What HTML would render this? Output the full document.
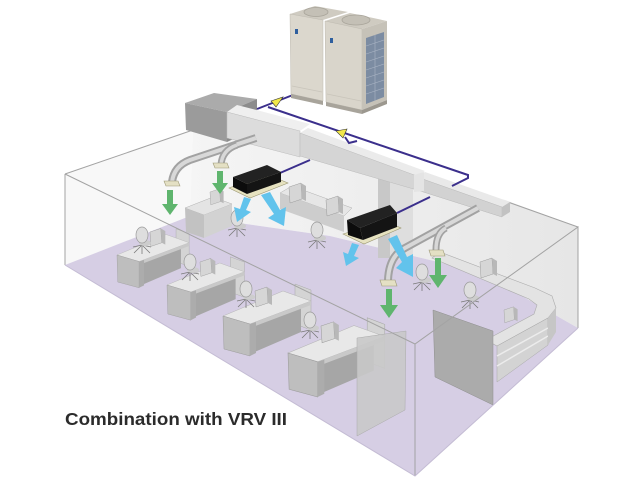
<!DOCTYPE html>
<html><head><meta charset="utf-8"><style>html,body{margin:0;padding:0;background:#fff}svg{display:block}</style></head>
<body>
<svg width="640" height="479" viewBox="0 0 640 479" xmlns="http://www.w3.org/2000/svg">
<defs>
<linearGradient id="bw" x1="0" y1="0" x2="1" y2="0">
<stop offset="0" stop-color="#f5f5f5"/><stop offset="1" stop-color="#e6e6e6"/>
</linearGradient>
<g id="desk">
 <polygon points="72,-32 88,-26 88,14 72,8" fill="#d4d4d4" stroke="#a8a8a8" stroke-width="0.5"/>
 <polygon points="27,10 78,-12 78,16 27,38" fill="#a6a6a6"/>
 <polygon points="0,0 60,-25 88,-15 27,8" fill="#e8e8e8" stroke="#b4b4b4" stroke-width="0.5"/>
 <polygon points="27,8 88,-15 88,-11 27,12" fill="#c9c9c9"/>
 <polygon points="0,0 27,8 27,40 1,33" fill="#bebebe" stroke="#9c9c9c" stroke-width="0.5"/>
 <polygon points="27,8 33,6 33,37 27,40" fill="#acacac"/>
</g>
<g id="mon">
 <polygon points="0,0 12,-4 13,12 1,16" fill="#d6d6d6" stroke="#9c9c9c" stroke-width="0.5"/>
 <polygon points="12,-4 17,-1 17,14 13,12" fill="#b8b8b8"/>
</g>
<g id="chair">
 <path d="M0,10 L-8,18 M0,10 L8,18 M0,10 L0,19 M0,10 L-9,12 M0,10 L9,12" stroke="#7a7a7a" stroke-width="0.8" fill="none"/>
 <ellipse cx="3" cy="8" rx="6" ry="3" fill="#cdcdcd"/>
 <ellipse cx="0" cy="0" rx="6" ry="8" fill="#dedede" stroke="#999" stroke-width="0.7"/>
</g>
</defs>
<rect width="640" height="479" fill="#fff"/>

<!-- walls and floor -->
<polygon points="65,174 193,130 190,216 65,265" fill="#f8f8f8"/>
<polygon points="193,130 505,200 578,227 578,328 480,272 330,236 190,216" fill="url(#bw)"/>
<polygon points="65,265 190,216 330,236 480,272 578,328 415,476" fill="#d6cee4"/>

<!-- back desks -->
<polygon points="280,193 292,186 352,208 344,216" fill="#e6e6e6" stroke="#b0b0b0" stroke-width="0.5"/>
<polygon points="280,193 344,216 344,232 280,209" fill="#cdcdcd"/>
<use href="#mon" transform="translate(289,187)"/>
<use href="#mon" transform="translate(326,200)"/>
<polygon points="185,208 213,197 232,204 204,215" fill="#e4e4e4" stroke="#b0b0b0" stroke-width="0.5"/>
<polygon points="185,208 204,215 204,238 186,232" fill="#c2c2c2"/>
<polygon points="204,215 232,204 232,226 204,238" fill="#d2d2d2"/>
<use href="#mon" transform="translate(210,192) scale(0.8)"/>
<use href="#chair" transform="translate(237,218)"/>
<use href="#chair" transform="translate(317,230)"/>

<!-- column -->
<rect x="378" y="176" width="12" height="82" fill="#c8c8c8"/>
<polygon points="390,180 413,189 413,262 390,258" fill="#dedede"/>

<!-- reception counter -->
<polygon points="440,252 535,288 552,296 556,308 548,318 497,346 486,340 534,314 537,305 529,299 432,258" fill="#e3e3e3" stroke="#acacac" stroke-width="0.6"/>
<polygon points="548,318 497,346 497,382 548,345" fill="#d3d3d3" stroke="#a8a8a8" stroke-width="0.5"/>
<path d="M497,356 L548,328 M497,366 L548,336" stroke="#ececec" stroke-width="1.5"/>
<polygon points="556,308 548,318 548,345 556,332" fill="#c6c6c6"/>
<use href="#mon" transform="translate(480,262)"/>
<use href="#mon" transform="translate(504,310) scale(0.8)"/>
<use href="#chair" transform="translate(470,290)"/>
<use href="#chair" transform="translate(422,272)"/>

<!-- front desks -->
<use href="#desk" transform="translate(117,255) scale(0.82)"/>
<use href="#mon" transform="translate(150,232) scale(0.9)"/>
<use href="#chair" transform="translate(142,235)"/>
<use href="#desk" transform="translate(167,285) scale(0.88)"/>
<use href="#mon" transform="translate(200,262) scale(0.9)"/>
<use href="#chair" transform="translate(190,262)"/>
<use href="#desk" transform="translate(223,316) scale(1)"/>
<use href="#mon" transform="translate(255,291)"/>
<use href="#chair" transform="translate(246,289)"/>
<use href="#desk" transform="translate(288,353) scale(1.1)"/>
<use href="#mon" transform="translate(321,326) scale(1.05)"/>
<use href="#chair" transform="translate(310,320)"/>

<!-- front panels -->
<polygon points="357,338 406,331 405,410 357,436" fill="#c9c9c9" fill-opacity="0.9" stroke="#aaa" stroke-width="0.5"/>
<polygon points="433,310 493,331 493,405 435,377" fill="#ababab" stroke="#8e8e8e" stroke-width="0.5"/>

<!-- room outline -->
<g stroke="#a3a3a3" stroke-width="1" fill="none">
<path d="M65,174 L193,130 M65,174 L65,265 M65,174 L415,344 L578,227 L578,328 M578,227 L505,201 M415,344 L415,476"/>
<path d="M65,265 L415,476 L578,328" stroke="#c4bcd4"/>
</g>

<!-- AHU -->
<polygon points="185,103 214,93 257,99 227,112" fill="#ababab"/>
<polygon points="185,103 227,112 227,142 186,130" fill="#9b9b9b"/>
<polygon points="227,112 257,99 257,128 227,142" fill="#8c8c8c"/>

<!-- duct -->
<polygon points="227,112 237,105 310,124 300,131" fill="#efefef"/>
<polygon points="227,112 300,131 300,157 227,138" fill="#dcdcdc" stroke="#bcbcbc" stroke-width="0.5"/>
<polygon points="300,133 308,128 425,171 417,176" fill="#ebebeb"/>
<polygon points="300,133 417,176 417,190 300,156" fill="#d5d5d5" stroke="#bbb" stroke-width="0.5"/>
<polygon points="417,177 425,172 510,202 502,207" fill="#e9e9e9"/>
<polygon points="417,177 502,207 502,217 417,190" fill="#d2d2d2" stroke="#b8b8b8" stroke-width="0.5"/>
<polygon points="502,207 510,202 510,212 502,217" fill="#c2c2c2"/>
<polygon points="414,175 424,172 424,191 414,192" fill="#e4e4e4"/>

<!-- refrigerant lines -->
<g stroke="#3b2f8c" stroke-width="2" fill="none">
<path d="M298,93 L257,109"/>
<path d="M268,107 L468,175 L468,178 L452,186"/>
<path d="M345,137 L349,143 L357,141"/>
<path d="M280,173 L310,160"/>
<path d="M397,213 L430,197"/>
</g>
<polygon points="271,101 283,97 276,107" fill="#f2e84a" stroke="#333" stroke-width="0.6"/>
<polygon points="336,131 347,129 343,138" fill="#f2e84a" stroke="#333" stroke-width="0.6"/>

<!-- flexible pipes -->
<g fill="none" stroke-linecap="butt">
<path d="M256,138 L190,160 Q174,166 172,182" stroke="#a2a2a2" stroke-width="8"/>
<path d="M256,138 L190,160 Q174,166 172,182" stroke="#d8d8d8" stroke-width="4"/>
<path d="M237,145 Q222,150 221,165" stroke="#a2a2a2" stroke-width="7"/>
<path d="M237,145 Q222,150 221,165" stroke="#d8d8d8" stroke-width="3.5"/>
<path d="M478,208 L405,248 Q389,256 388,280" stroke="#a2a2a2" stroke-width="8"/>
<path d="M478,208 L405,248 Q389,256 388,280" stroke="#d8d8d8" stroke-width="4"/>
<path d="M446,228 Q436,233 436,250" stroke="#a2a2a2" stroke-width="7"/>
<path d="M446,228 Q436,233 436,250" stroke="#d8d8d8" stroke-width="3.5"/>
</g>
<g fill="#e4e0c4" stroke="#9e9a78" stroke-width="0.6">
<polygon points="164,181 178,181 180,186 166,186"/>
<polygon points="213,163 227,163 229,168 215,168"/>
<polygon points="380,280 395,280 397,286 382,286"/>
<polygon points="429,250 443,250 445,256 431,256"/>
</g>

<!-- green arrows -->
<g fill="#5fb56e">
<polygon points="167,190 173,190 173,204 178,204 170,215 162,204 167,204"/>
<polygon points="217,171 223,171 223,183 228,183 220,194 212,183 217,183"/>
<polygon points="386,289 392,289 392,305 398,305 389,318 380,305 386,305"/>
<polygon points="435,258 441,258 441,275 447,275 438,288 429,275 435,275"/>
</g>

<!-- FCU 1 -->
<polygon points="229,188 250,198 288,183 266,174" fill="#e6e2c0" stroke="#9a9670" stroke-width="0.6"/>
<polygon points="233,177 267,165 281,172 247,184" fill="#222"/>
<polygon points="233,177 247,184 247,194 233,187" fill="#0c0c0c"/>
<polygon points="247,184 281,172 281,182 247,194" fill="#141414"/>
<!-- FCU 2 -->
<polygon points="343,234 364,244 401,228 385,221" fill="#e6e2c0" stroke="#9a9670" stroke-width="0.6"/>
<polygon points="347,220 390,205 397,213 360,228" fill="#222"/>
<polygon points="347,220 360,228 363,240 348,235" fill="#0c0c0c"/>
<polygon points="360,228 397,213 397,227 363,240" fill="#141414"/>

<!-- blue airflow arrows -->
<g fill="#62c3ec">
<polygon points="244,197 251,199 246,210 251,212 237,222 234,207 240,209"/>
<polygon points="261,195 270,192 280,210 286,207 284,226 268,218 274,214"/>
<polygon points="352,243 359,245 354,256 359,258 346,266 343,252 348,254"/>
<polygon points="388,239 397,235 407,257 413,254 413,277 396,268 402,262"/>
</g>

<!-- outdoor units -->
<polygon points="290,14 323,20 348,12 315,6" fill="#cfcbc1"/>
<ellipse cx="316" cy="12" rx="12" ry="4.5" fill="#c4c0b6" stroke="#a8a49a" stroke-width="0.8"/>
<polygon points="290,14 323,20 323,101 291,94" fill="#dbd7cd" stroke="#bdb9af" stroke-width="0.5"/>
<polygon points="291,94 323,101 323,105 291,98" fill="#a8a49b"/>
<polygon points="325,21 362,29 387,21 350,13" fill="#cfcbc1"/>
<ellipse cx="356" cy="20" rx="14" ry="5" fill="#c4c0b6" stroke="#a8a49a" stroke-width="0.8"/>
<polygon points="325,21 362,29 362,110 326,102" fill="#d9d5cb" stroke="#bdb9af" stroke-width="0.5"/>
<polygon points="362,29 387,21 387,100 362,110" fill="#c6c2b8"/>
<polygon points="326,102 362,110 362,114 326,106" fill="#a8a49b"/>
<polygon points="362,110 387,100 387,104 362,114" fill="#9c988f"/>
<polygon points="366,38 384,32 384,97 366,104" fill="#7c8ca2"/>
<g stroke="#aab4c4" stroke-width="0.6">
<path d="M366,46 L384,40 M366,54 L384,48 M366,62 L384,56 M366,70 L384,64 M366,78 L384,72 M366,86 L384,80 M366,94 L384,88 M375,35 L375,101"/>
</g>
<path d="M292,86 L322,92 M327,94 L361,101" stroke="#c8c4ba" stroke-width="0.8"/>
<rect x="295" y="29" width="3" height="5" fill="#2f5f9e"/>
<rect x="330" y="38" width="3" height="5" fill="#2f5f9e"/>

<!-- caption -->
<text x="65" y="425" font-family="Liberation Sans, Arial, sans-serif" font-weight="bold" font-size="17.5" fill="#2b2b2b" textLength="222" lengthAdjust="spacingAndGlyphs">Combination with VRV III</text>
</svg>
</body></html>
